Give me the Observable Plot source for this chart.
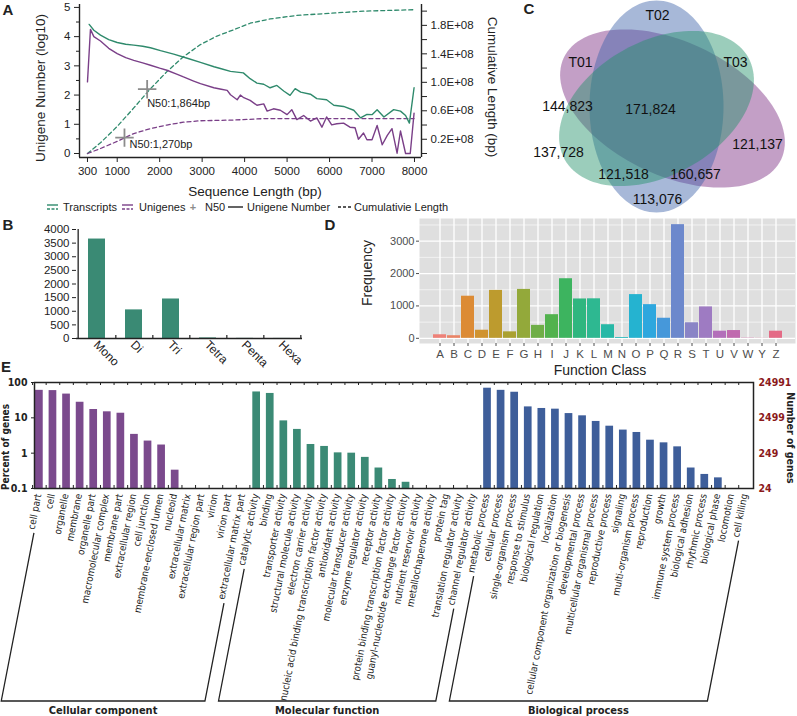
<!DOCTYPE html>
<html><head><meta charset="utf-8">
<script src="https://cdn.jsdelivr.net/npm/d3@7"></script>
<script src="https://cdn.jsdelivr.net/npm/@observablehq/plot@0.6"></script>
<style>
body{margin:0;background:#fff;}
#fig{position:relative;width:797px;height:716px;overflow:hidden;background:#fff;}
</style></head>
<body><div id="fig"></div>
<script>
// ================= DATA =================
// Panel A
const transcriptsBp  = [340,450,606,800,1000,1200,1390,1600,1783,2020,2330,2650,2960,3280,3450,3667,3970,4130,4290,4450,4600,4760,4920,5070,5190,5320,5550,5700,5930,6100,6330,6570,6730,6880,7000,7120,7280,7510,7670,7790,7880,7990];
const transcriptsNum = [4.42,4.22,4.05,3.9,3.8,3.74,3.71,3.67,3.62,3.52,3.4,3.26,3.12,2.97,2.9,2.81,2.76,2.56,2.41,2.37,2.25,2.33,2.14,1.99,2.22,2.1,2.03,1.88,1.84,1.65,1.61,1.48,1.22,1.34,1.33,1.5,1.25,1.5,1.45,1.3,1.04,2.25];
const unigenesBp  = [300,370,450,606,800,1000,1200,1390,1600,1783,2000,2170,2400,2560,2800,2960,3275,3450,3590,3667,3825,3900,3980,4130,4290,4450,4530,4680,4840,5000,5110,5230,5390,5550,5700,5820,5930,6050,6170,6330,6480,6600,6680,6800,6880,7000,7120,7240,7360,7470,7590,7670,7790,7900,7990];
const unigenesNum = [2.45,4.25,4.0,3.85,3.6,3.42,3.28,3.19,3.1,3.02,2.92,2.85,2.72,2.62,2.48,2.39,2.25,2.2,2.16,2.01,1.84,2.0,1.91,1.82,1.65,1.7,1.45,1.53,1.48,1.33,1.5,1.16,1.3,1.11,1.22,0.9,1.25,0.98,1.02,1.04,0.9,0.88,0.49,0.7,0.47,0.47,0.96,0.3,0.62,0.85,0.01,0.77,0,0,1.38];
const transcriptsCumBp = [300,606,1000,1390,1783,2170,2560,2960,3350,3750,4130,4600,5230,6020,6800,7990];
const transcriptsCum   = [0,0.15,0.38,0.64,0.91,1.15,1.36,1.53,1.65,1.74,1.83,1.89,1.94,1.97,2.0,2.02]; // x1e8 bp
const unigenesCumBp = [300,606,1000,1171,1390,1783,2170,2560,2960,3750,4450,7990];
const unigenesCum   = [0,0.07,0.17,0.22,0.28,0.35,0.40,0.44,0.46,0.47,0.49,0.49];
const n50Series = ["Transcripts","Unigenes"];
const n50Length = [1864, 1270];
const n50MarkBp = [1705, 1171];
const n50MarkCum = [0.904, 0.223];
const aXTicks = [300,1000,2000,3000,4000,5000,6000,7000,8000];
const aYTicks = [0,1,2,3,4,5];
const aRightTicks = [0.2,0.6,1.0,1.4,1.8];
const aRightLabels = ["0.2E+08","0.6E+08","1.0E+08","1.4E+08","1.8E+08"];
const aRightMinor = [0,0.4,0.8,1.2,1.6,2.0];

// Panel B
const ssrTypes = ["Mono","Di","Tri","Tetra","Penta","Hexa"];
const ssrCounts = [3650,1050,1450,20,5,3];
const bYTicks = [0,500,1000,1500,2000,2500,3000,3500,4000];

// Panel C
const vennSets = ["T01","T02","T03"];
const vennCx = [212,196,196];
const vennCy = [108,106,108];
const vennRx = [120,67,105];
const vennRy = [67,106,67];
const vennAngle = [25,0,-29];
const vennLabelText = ["T02","T01","T03","144,823","171,824","137,728","121,137","121,518","160,657","113,076"];
const vennLabelX = [197,120,275,107,190,98,297,163,235,197];
const vennLabelY = [15,62,62,106,109,152,144,174,174,199];

// Panel D
const cogClasses = ["A","B","C","D","E","F","G","H","I","J","K","L","M","N","O","P","Q","R","S","T","U","V","W","Y","Z"];
const cogFreq = [110,80,1300,250,1480,200,1510,400,730,1840,1215,1220,420,25,1350,1040,620,3510,480,970,220,240,8,4,220];
const dYTicks = [0,1000,2000,3000];

// Panel E
const ccTerms = ["cell part","cell","organelle","membrane","organelle part","macromolecular complex","membrane part","extracellular region","cell junction","membrane-enclosed lumen","nucleoid","extracellular matrix","extracellular region part","virion","virion part","extracellular matrix part"];
const ccPercent = [60,59,47,27.6,17.2,14.8,13.5,3.4,2.2,1.7,0.33,0,0,0,0,0];
const mfTerms = ["catalytic activity","binding","transporter activity","structural molecule activity","electron carrier activity","nucleic acid binding transcription factor activity","antioxidant activity","molecular transducer activity","enzyme regulator activity","receptor activity","protein binding transcription factor activity","guanyl-nucleotide exchange factor activity","nutrient reservoir activity","metallochaperone activity","protein tag","translation regulator activity","channel regulator activity"];
const mfPercent = [54,49,8.2,4.7,1.76,1.55,1.02,1.0,0.76,0.38,0.18,0.15,0,0,0,0,0];
const bpTerms = ["metabolic process","cellular process","single-organism process","response to stimulus","biological regulation","localization","cellular component organization or biogenesis","developmental process","multicellular organismal process","reproductive process","signaling","multi-organism process","reproduction","growth","immune system process","biological adhesion","rhythmic process","biological phase","locomotion","cell killing"];
const bpPercent = [69,60,53,20.4,18.4,17.6,13.2,11.4,7.9,5.8,4.5,3.85,2.33,1.96,1.51,0.38,0.25,0.2,0,0];
const goGroups = ["Cellular component","Molecular function","Biological process"];
const eLeftTicks = [0.1,1,10,100];
const eRightLabels = ["24","249","2499","24991"];

// ================= STYLE =================
const SANS = '"Liberation Sans", Arial, Helvetica, sans-serif';
const NARROW = '"Liberation Sans Narrow", "Arial Narrow", "DejaVu Sans Condensed", sans-serif';
const GREEN = "#2f8a6c", PURPLE = "#7a3f88", INK = "#222";
const vennFill = ["#7a2a80","#3b61a9","#219169"];
const cogColors = ["#ee8178","#ea8466","#dc8b35","#d09330","#bd9b2e","#aaa131","#93a93a","#6fae47","#52b24e","#3db45f","#2fb67f","#2eb891","#27b8a6","#1fb7b9","#25b3d0","#2ea7de","#4698da","#6c88cc","#8a84c6","#9e7bc2","#b36fba","#c06aaf","#cf68a2","#d96a95","#e46b86"];
const goColors = ["#7b4a8d","#3b8a75","#3e5e9a"];

const fig = document.getElementById("fig");
function put(node, left, top){ node.style.position="absolute"; node.style.left=left+"px"; node.style.top=top+"px"; fig.appendChild(node); return node; }
function txt(s, x, y, o = {}){
  const d = document.createElement("div");
  d.textContent = s;
  Object.assign(d.style, {position:"absolute", left:x+"px", top:y+"px", whiteSpace:"nowrap", lineHeight:"1",
    fontFamily:o.family||SANS, fontSize:(o.size||12)+"px", fontWeight:o.weight||"normal", color:o.color||INK,
    transform:`translate(${o.tx ?? -50}%, -50%) rotate(${o.rotate||0}deg)`});
  fig.appendChild(d); return d;
}
const baseStyle = (size, fam) => ({fontFamily: fam||SANS, fontSize: size+"px", color: INK, background: "transparent", overflow: "visible"});

// ================= PANEL A =================
const K = 2.4365; // 1e8 bp (right axis) -> left-axis units
const rows = (xs, ys) => xs.map((x,i)=>({x, y: ys[i]}));
const n50Rows = n50Series.map((s,i)=>({s, len:n50Length[i], bp:n50MarkBp[i], cum:n50MarkCum[i]}));
const fmt = d3.format(",");
const rightLabel = v => { const i = aRightTicks.findIndex(t => Math.abs(t*K - v) < 1e-6); return i < 0 ? "" : aRightLabels[i]; };
const A = Plot.plot({
  width: 480, height: 185, marginLeft: 79, marginRight: 59, marginTop: 4, marginBottom: 28,
  style: baseStyle(11.5),
  x: {domain: [112, 8165]},
  y: {domain: [-0.137, 5.1]},
  marks: [
    Plot.ruleX([112], {stroke: INK, strokeWidth: 1.4}),
    Plot.ruleX([8165], {stroke: INK, strokeWidth: 1.4}),
    Plot.ruleY([-0.137], {stroke: INK, strokeWidth: 1.4}),
    Plot.line(rows(transcriptsCumBp, transcriptsCum), {x:"x", y: d => d.y*K, stroke: GREEN, strokeWidth: 1.3, strokeDasharray: "4,3"}),
    Plot.line(rows(unigenesCumBp, unigenesCum), {x:"x", y: d => d.y*K, stroke: PURPLE, strokeWidth: 1.3, strokeDasharray: "4,3"}),
    Plot.line(rows(transcriptsBp, transcriptsNum), {x:"x", y:"y", stroke: GREEN, strokeWidth: 1.4}),
    Plot.line(rows(unigenesBp, unigenesNum), {x:"x", y:"y", stroke: PURPLE, strokeWidth: 1.4}),
    Plot.dot(n50Rows, {x:"bp", y: d => d.cum*K, symbol:"plus", r: 6, stroke:"#8c8c8c", strokeWidth: 1.8}),
    Plot.text([n50Rows[0]], {x:"bp", y: d => d.cum*K, text: d => `N50:${fmt(d.len)}bp`, textAnchor:"start", dx: 0, dy: 14, fontSize: 11}),
    Plot.text([n50Rows[1]], {x:"bp", y: d => d.cum*K, text: d => `N50:${fmt(d.len)}bp`, textAnchor:"start", dx: 5, dy: 7, fontSize: 11}),
    Plot.axisX({ticks: aXTicks, tickSize: 5, tickPadding: 4, tickFormat: d => String(d), label: null}),
    Plot.axisY({ticks: aYTicks, tickSize: 5, tickPadding: 4, tickFormat: d => String(d), label: null}),
    Plot.axisY({ticks: [0.5,1.5,2.5,3.5,4.5], tickSize: 3, tickFormat: () => "", label: null}),
    Plot.axisY({anchor: "right", ticks: aRightTicks.map(v => v*K), tickSize: 5, tickPadding: 4, tickFormat: rightLabel, label: null}),
    Plot.axisY({anchor: "right", ticks: aRightMinor.map(v => v*K), tickSize: 5, tickFormat: () => "", label: null})
  ]
});
put(A, 0, 0);
txt("Unigene Number (log10)", 41, 88, {size: 13.5, rotate: -90});
txt("Cumulative Length (bp)", 492, 87, {size: 13.5, rotate: 90});
txt("Sequence Length (bp)", 255, 192, {size: 13.5});
// legend A
function legendIcon(color, kind){
  const ns = "http://www.w3.org/2000/svg";
  const s = document.createElementNS(ns, "svg"); s.setAttribute("width", 16); s.setAttribute("height", 10);
  const add = (y, dash, w) => { const l = document.createElementNS(ns, "line"); l.setAttribute("x1", 0); l.setAttribute("x2", w); l.setAttribute("y1", y); l.setAttribute("y2", y); l.setAttribute("stroke", color); l.setAttribute("stroke-width", 1.4); if (dash) l.setAttribute("stroke-dasharray", dash); s.appendChild(l); };
  if (kind === "pair") { add(3, null, 11); add(7, "3,1.5", 11); }
  else if (kind === "solid") { add(5, null, 15); }
  else if (kind === "dash") { add(5, "3,2", 13); }
  return s;
}
put(legendIcon(GREEN, "pair"), 47, 202);
txt("Transcripts", 63, 207, {size: 11, tx: 0});
put(legendIcon(PURPLE, "pair"), 122, 202);
txt("Unigenes", 139, 207, {size: 11, tx: 0});
txt("+", 193, 207, {size: 11, color: "#8c8c8c", weight: "bold"});
txt("N50", 205, 207, {size: 11, tx: 0});
put(legendIcon(INK, "solid"), 228, 202);
txt("Unigene Number", 247, 207, {size: 11, tx: 0});
put(legendIcon(INK, "dash"), 338, 202);
txt("Cumulativie Length", 354, 207, {size: 11, tx: 0});

// ================= PANEL B =================
const bStep = (302 - 76) / ssrTypes.length;
const B = Plot.plot({
  width: 310, height: 160, marginLeft: 76, marginRight: 8, marginTop: 14, marginBottom: 37,
  style: baseStyle(11.5),
  x: {domain: ssrTypes, paddingInner: 0.53, paddingOuter: 0.265, axis: null},
  y: {domain: [0, 4000]},
  marks: [
    Plot.barY(ssrTypes.map((t,i)=>({t, n: ssrCounts[i]})), {x:"t", y:"n", fill: "#3a8a74"}),
    Plot.ruleY([0], {stroke: INK, strokeWidth: 1.3}),
    Plot.ruleX([ssrTypes[0]], {dx: -bStep/2, stroke: INK, strokeWidth: 1.3}),
    Plot.ruleX(ssrTypes, {x: d => d, dx: bStep/2, y1: 0, y2: 110, stroke: INK, strokeWidth: 1.2}),
    Plot.axisY({ticks: bYTicks, tickSize: 4, tickPadding: 3, tickFormat: d => String(d), label: null}),
    Plot.text(ssrTypes, {x: d => d, frameAnchor: "bottom", rotate: 45, textAnchor: "start", dx: -4, dy: 7, fontSize: 12})
  ]
});
put(B, 0, 215);

// ================= PANEL C =================
const ellipseRows = [];
vennSets.forEach((s, k) => {
  const a = vennAngle[k] * Math.PI / 180;
  for (let j = 0; j < 120; j++) {
    const t = 2 * Math.PI * j / 120;
    ellipseRows.push({set: s,
      x: vennCx[k] + vennRx[k]*Math.cos(t)*Math.cos(a) - vennRy[k]*Math.sin(t)*Math.sin(a),
      y: vennCy[k] + vennRx[k]*Math.cos(t)*Math.sin(a) + vennRy[k]*Math.sin(t)*Math.cos(a)});
  }
});
const C = Plot.plot({
  width: 337, height: 225, margin: 0,
  style: baseStyle(14),
  x: {domain: [0, 337], axis: null},
  y: {domain: [225, 0], axis: null},
  marks: [
    ...vennSets.map((s, k) => Plot.line(ellipseRows.filter(d => d.set === s), {x:"x", y:"y", curve:"linear-closed", fill: vennFill[k], fillOpacity: 0.45, stroke: "none"})),
    Plot.text(vennLabelText.map((t,i)=>({t, x: vennLabelX[i], y: vennLabelY[i]})), {x:"x", y:"y", text:"t", fontSize: 14, fill: "#111"})
  ]
});
put(C, 460, 0);

// ================= PANEL D =================
const D = Plot.plot({
  width: 442, height: 165, marginLeft: 64, marginRight: 2, marginTop: 3, marginBottom: 37,
  style: baseStyle(11),
  x: {domain: cogClasses, paddingInner: 0.1, paddingOuter: 0.15},
  y: {domain: [-160, 3700]},
  color: {domain: cogClasses, range: cogColors},
  marks: [
    Plot.frame({fill: "#dfdfdf", stroke: "none"}),
    Plot.ruleY([500,1500,2500,3500], {stroke: "white", strokeWidth: 0.6}),
    Plot.ruleY(dYTicks, {stroke: "white", strokeWidth: 1.3}),
    Plot.ruleX(cogClasses, {x: d => d, stroke: "white", strokeWidth: 1.3}),
    Plot.barY(cogClasses.map((c,i)=>({c, f: cogFreq[i]})), {x:"c", y:"f", fill:"c"}),
    Plot.axisY({ticks: dYTicks, tickSize: 3, tickPadding: 2, tickFormat: d => String(d), label: null, color: "#4d4d4d"}),
    Plot.axisX({tickSize: 3, tickPadding: 3, label: null, color: "#4d4d4d", fontSize: 11.5})
  ]
});
put(D, 355, 215);
txt("Frequency", 367, 273, {size: 14, rotate: -90});
txt("Function Class", 600, 370, {size: 14});

// ================= PANEL E =================
const goRows = [
  ...ccTerms.map((t,i)=>({t, p: ccPercent[i], g: goGroups[0]})),
  ...mfTerms.map((t,i)=>({t, p: mfPercent[i], g: goGroups[1]})),
  ...bpTerms.map((t,i)=>({t, p: bpPercent[i], g: goGroups[2]}))
];
const allTerms = goRows.map(d => d.t);
const ePI = 0.433, ePO = 0.19;
const eStep = (753 - 34) / (allTerms.length - ePI + 2*ePO);
const pxToLog = px => Math.pow(10, px / 35.33); // multiplicative factor for px on log axis
const E = Plot.plot({
  width: 797, height: 346, marginLeft: 34, marginRight: 44, marginTop: 12, marginBottom: 228,
  style: baseStyle(10.5, NARROW),
  x: {domain: allTerms, paddingInner: ePI, paddingOuter: ePO, align: 0.2, axis: null},
  y: {type: "log", domain: [0.1, 100]},
  color: {domain: goGroups, range: goColors},
  marks: [
    Plot.barY(goRows.filter(d => d.p > 0), {x:"t", y1: 0.1, y2:"p", fill:"g"}),
    Plot.ruleX(allTerms, {x: d => d, dx: -eStep/2, y1: 100, y2: 100/pxToLog(3), stroke: INK, strokeWidth: 1}),
    Plot.ruleX(allTerms, {x: d => d, dx: -eStep/2, y1: 0.1, y2: 0.1*pxToLog(3), stroke: INK, strokeWidth: 1}),
    Plot.frame({stroke: INK, strokeWidth: 1.5}),
    Plot.axisY({ticks: eLeftTicks, tickSize: 3, tickPadding: 4, tickFormat: d => String(d), label: null, fontWeight: "bold"}),
    Plot.axisY({anchor: "right", ticks: eLeftTicks, tickSize: 0, tickPadding: 5, tickFormat: d => eRightLabels[eLeftTicks.indexOf(d)], label: null, fill: "#8b1a1a", fontWeight: "bold"}),
    Plot.text(allTerms, {x: d => d, frameAnchor: "bottom", rotate: -79, textAnchor: "end", dx: 2, dy: 6, fontSize: 9.8})
  ]
});
put(E, 0, 370);
// brackets drawn from the positions of the rendered tick labels
(function brackets(){
  const ns = "http://www.w3.org/2000/svg";
  const texts = Array.from(E.querySelectorAll('g[aria-label="text"] text'));
  if (texts.length < allTerms.length) return;
  const bottomY = 701 - 370;
  const startOf = el => { const m = el.getCTM(); const L = el.getComputedTextLength() + 3; return [m.e - L*m.a, m.f - L*m.b, m.a, m.b]; };
  const foot = ([sx, sy, a, b]) => { const t = (bottomY - sy) / (-b); return [sx - t*a, bottomY]; };
  const sizes = [ccTerms.length, mfTerms.length, bpTerms.length];
  let idx = 0;
  sizes.forEach((n, g) => {
    const s1 = startOf(texts[idx]), s2 = startOf(texts[idx + n - 1]);
    const f1 = foot(s1), f2 = foot(s2);
    const p = document.createElementNS(ns, "path");
    p.setAttribute("d", `M${s1[0]},${s1[1]}L${f1[0]},${f1[1]}L${f2[0]},${f2[1]}L${s2[0]},${s2[1]}`);
    p.setAttribute("fill", "none"); p.setAttribute("stroke", INK); p.setAttribute("stroke-width", 1.3);
    E.appendChild(p);
    const tl = document.createElementNS(ns, "text");
    tl.setAttribute("x", (f1[0] + f2[0]) / 2); tl.setAttribute("y", bottomY + 13);
    tl.setAttribute("text-anchor", "middle"); tl.setAttribute("font-weight", "bold"); tl.setAttribute("font-size", 11);
    tl.setAttribute("font-family", NARROW); tl.setAttribute("fill", INK);
    tl.textContent = goGroups[g];
    E.appendChild(tl);
    idx += n;
  });
})();
txt("Percent of genes", 6, 447, {size: 10, rotate: -90, weight: "bold", family: NARROW});
txt("Number of genes", 791, 438, {size: 10.5, rotate: 90, weight: "bold", family: NARROW});

// panel letters
txt("A", 8, 9, {size: 15, weight: "bold"});
txt("B", 8, 224, {size: 15, weight: "bold"});
txt("C", 529, 8, {size: 15, weight: "bold"});
txt("D", 330, 224, {size: 15, weight: "bold"});
txt("E", 6, 366, {size: 15, weight: "bold"});
</script>
</body></html>
